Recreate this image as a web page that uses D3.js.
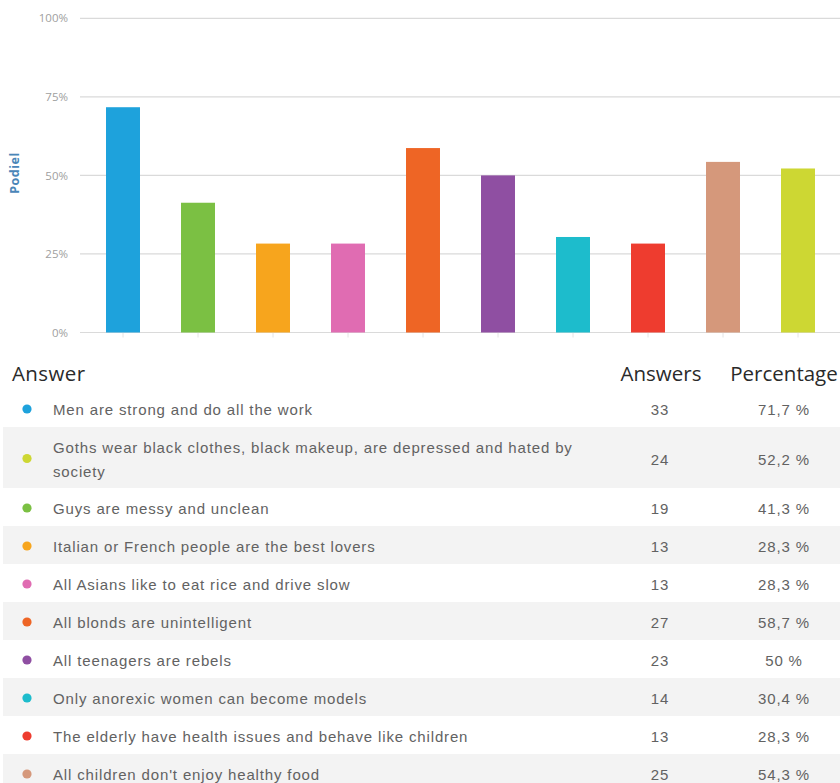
<!DOCTYPE html>
<html>
<head>
<meta charset="utf-8">
<script src="https://cdn.jsdelivr.net/npm/d3@7"></script>
<style>
  html, body { margin: 0; padding: 0; background: #fff; }
  svg { display: block; }
</style>
</head>
<body>
<svg id="chart" width="840" height="783"></svg>
<script>
// Survey answers, in table order
const answers = [
  "Men are strong and do all the work",
  "Goths wear black clothes, black makeup, are depressed and hated by society",
  "Guys are messy and unclean",
  "Italian or French people are the best lovers",
  "All Asians like to eat rice and drive slow",
  "All blonds are unintelligent",
  "All teenagers are rebels",
  "Only anorexic women can become models",
  "The elderly have health issues and behave like children",
  "All children don't enjoy healthy food"
];
const counts = [33, 24, 19, 13, 13, 27, 23, 14, 13, 25];
const percents = [71.7, 52.2, 41.3, 28.3, 28.3, 58.7, 50, 30.4, 28.3, 54.3];
const colors = ["#1ea2dc", "#cdd733", "#7bc043", "#f7a51d", "#e06cb2",
                "#ee6525", "#8f4fa2", "#1dbccc", "#ee3c2f", "#d5987b"];
// Order of the bars along the x axis (indices into answers)
const barOrder = [0, 2, 3, 4, 5, 6, 7, 8, 9, 1];
const yTicks = [0, 25, 50, 75, 100];
const headers = ["Answer", "Answers", "Percentage"];
const axisTitle = "Podiel";

const svg = d3.select("#chart");

// ---- bar chart ----
const x = d3.scaleBand()
  .domain(barOrder)
  .range([85.5, 835.5])
  .paddingInner(0.547)
  .paddingOuter(0.2735);
const y = d3.scaleLinear().domain([0, 100]).range([332.5, 18.3]);

const grid = svg.append("g").attr("class", "grid");
grid.selectAll("line").data(yTicks).join("line")
  .attr("x1", 80).attr("x2", 840)
  .attr("y1", d => y(d)).attr("y2", d => y(d))
  .attr("stroke", "#dadada").attr("stroke-width", 1.2);

const yAxis = d3.axisLeft(y).tickValues(yTicks).tickSize(0).tickPadding(0)
  .tickFormat(d => d + "%");
svg.append("g")
  .attr("transform", "translate(68,0)")
  .call(yAxis)
  .call(g => g.select(".domain").remove())
  .call(g => g.selectAll("text")
    .attr("fill", "#a0a0a0")
    .attr("font-family", "'Open Sans', sans-serif")
    .attr("font-size", 11.5));

// small ticks under the baseline at each category
const xAxis = d3.axisBottom(x).tickSize(5).tickFormat("");
svg.append("g")
  .attr("transform", `translate(0,${y(0)})`)
  .call(xAxis)
  .call(g => g.select(".domain").remove())
  .call(g => g.selectAll("line").attr("stroke", "#e4e4e4"));

svg.append("text")
  .attr("transform", "translate(19,173) rotate(-90)")
  .attr("text-anchor", "middle")
  .attr("font-family", "'Open Sans', sans-serif")
  .attr("font-weight", 700)
  .attr("font-size", 12.5)
  .attr("letter-spacing", 0.5)
  .attr("fill", "#4a86b8")
  .text(axisTitle);

svg.append("g").selectAll("rect").data(barOrder).join("rect")
  .attr("x", d => x(d))
  .attr("width", x.bandwidth())
  .attr("y", d => y(percents[d]))
  .attr("height", d => y(0) - y(percents[d]))
  .attr("fill", d => colors[d]);

// ---- table ----
const fmtPct = v => (Number.isInteger(v) ? String(v) : v.toFixed(1).replace(".", ",")) + " %";
const colAnswers = 661, colPct = 784;

const head = svg.append("g")
  .attr("font-family", "'Open Sans', sans-serif")
  .attr("font-size", 20.5)
  .attr("fill", "#2a2a2a");
head.append("text").attr("x", 12).attr("y", 381).attr("letter-spacing", 0.4).text(headers[0]);
head.append("text").attr("x", colAnswers).attr("y", 381).attr("text-anchor", "middle").text(headers[1]);
head.append("text").attr("x", colPct).attr("y", 381).attr("text-anchor", "middle").text(headers[2]);

// answer text lines (second answer wraps onto two lines)
const lines = answers.map((a, i) => i === 1
  ? ["Goths wear black clothes, black makeup, are depressed and hated by", "society"]
  : [a]);
const rowH = 38, lineH = 24;
let rowTop = 389;
const rows = lines.map((ls, i) => {
  const h = ls.length > 1 ? 61 : rowH;
  const r = { i, ls, top: rowTop, h };
  rowTop += h;
  return r;
});

const body = svg.append("g");
const rowG = body.selectAll("g").data(rows).join("g")
  .attr("transform", d => `translate(0,${d.top})`);

rowG.filter(d => d.i % 2 === 1).append("rect")
  .attr("x", 3).attr("width", 837).attr("height", d => d.h)
  .attr("fill", "#f3f3f3");

rowG.append("circle")
  .attr("cx", 27).attr("cy", d => d.h / 2 + 1)
  .attr("r", 4.6)
  .attr("fill", d => colors[d.i]);

const txt = rowG.append("g")
  .attr("font-family", "'Liberation Sans', Arial, sans-serif")
  .attr("font-size", 15)
  .attr("letter-spacing", 0.85)
  .attr("fill", "#626262");

txt.each(function (d) {
  const g = d3.select(this);
  const c = d.h / 2 + 7;
  const off = (d.ls.length - 1) * lineH / 2;
  d.ls.forEach((l, k) => {
    g.append("text")
      .attr("x", 53)
      .attr("y", c - off + k * lineH)
      .text(l);
  });
  g.append("text")
    .attr("x", colAnswers - 1).attr("y", c)
    .attr("text-anchor", "middle")
    .text(counts[d.i]);
  g.append("text")
    .attr("x", colPct).attr("y", c)
    .attr("text-anchor", "middle")
    .text(fmtPct(percents[d.i]));
});
</script>
</body>
</html>
